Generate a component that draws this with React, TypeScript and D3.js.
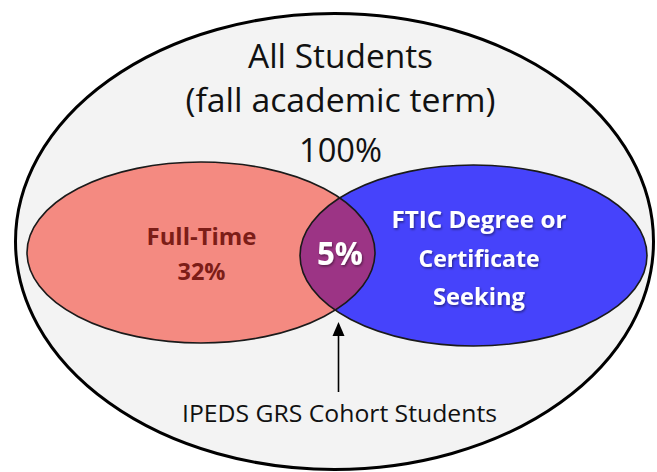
import React, { useEffect, useRef } from "react";
import * as d3 from "d3";

// data
const universeLines = ["All Students", "(fall academic term)"];
const universeShare = 100;
const setKeys = ["fullTime", "ftic"];
const setLines = [["Full-Time"], ["FTIC Degree or", "Certificate", "Seeking"]];
const setShares: (number | null)[] = [32, null];
const overlapShare = 5;
const calloutLabel = "IPEDS GRS Cohort Students";

const W = 657;
const H = 472;
const FONT = "'Open Sans', 'Noto Sans', sans-serif";

// layout (pixels), kept apart from the data
const outer = { cx: 334.5, cy: 241.5, rx: 319, ry: 228 };
const circles = [
  { cx: 201, cy: 252.5, rx: 174, ry: 90.5, fill: "#f48a81" },
  { cx: 473.5, cy: 255.5, rx: 173.5, ry: 90.5, fill: "#4643fb" },
];
const overlapFill = "#9c3485";

const pct = d3.format(".0f");

export default function App() {
  const ref = useRef<SVGSVGElement | null>(null);

  useEffect(() => {
    const svg = d3.select(ref.current);
    svg.selectAll("*").remove();

    const defs = svg.append("defs");
    const shadow = defs.append("filter").attr("id", "soft").attr("x", "-10%").attr("y", "-10%").attr("width", "130%").attr("height", "140%");
    shadow.append("feDropShadow").attr("dx", 1).attr("dy", 1.5).attr("stdDeviation", 1).attr("flood-color", "#000").attr("flood-opacity", 0.45);

    defs.append("clipPath").attr("id", "clipLeft")
      .append("ellipse")
      .attr("cx", circles[0].cx).attr("cy", circles[0].cy)
      .attr("rx", circles[0].rx).attr("ry", circles[0].ry);

    // universe
    svg.append("ellipse")
      .attr("cx", outer.cx).attr("cy", outer.cy)
      .attr("rx", outer.rx).attr("ry", outer.ry)
      .attr("fill", "#f3f3f3").attr("stroke", "#000").attr("stroke-width", 3);

    const g = svg.append("g");
    g.selectAll("ellipse.set")
      .data(setKeys)
      .join("ellipse")
      .attr("class", "set")
      .attr("cx", (_, i) => circles[i].cx).attr("cy", (_, i) => circles[i].cy)
      .attr("rx", (_, i) => circles[i].rx).attr("ry", (_, i) => circles[i].ry)
      .attr("fill", (_, i) => circles[i].fill);

    // overlap = right set clipped to left set
    g.append("ellipse")
      .attr("clip-path", "url(#clipLeft)")
      .attr("cx", circles[1].cx).attr("cy", circles[1].cy)
      .attr("rx", circles[1].rx).attr("ry", circles[1].ry)
      .attr("fill", overlapFill);

    g.selectAll("ellipse.edge")
      .data(setKeys)
      .join("ellipse")
      .attr("class", "edge")
      .attr("cx", (_, i) => circles[i].cx).attr("cy", (_, i) => circles[i].cy)
      .attr("rx", (_, i) => circles[i].rx).attr("ry", (_, i) => circles[i].ry)
      .attr("fill", "none").attr("stroke", "#1a1a1a").attr("stroke-width", 1.6);

    // title block
    const title = [...universeLines, pct(universeShare) + "%"];
    const titleY = [68, 112, 162];
    const titleW = [185, 310, 83];
    svg.selectAll("text.title")
      .data(title)
      .join("text")
      .attr("class", "title")
      .attr("x", 340.5)
      .attr("y", (_, i) => titleY[i])
      .attr("text-anchor", "middle")
      .attr("font-family", FONT)
      .attr("font-size", 32)
      .attr("fill", "#111")
      .attr("textLength", (_, i) => titleW[i])
      .attr("lengthAdjust", "spacingAndGlyphs")
      .text((d) => d);

    // left set label
    const leftText = [...setLines[0], pct(setShares[0] as number) + "%"];
    const leftY = [245, 280];
    const leftW = [110, 48];
    svg.selectAll("text.left")
      .data(leftText)
      .join("text")
      .attr("class", "left")
      .attr("x", 201.5)
      .attr("y", (_, i) => leftY[i])
      .attr("text-anchor", "middle")
      .attr("font-family", FONT)
      .attr("font-weight", 700)
      .attr("font-size", 23)
      .attr("fill", "#7c1d17")
      .attr("textLength", (_, i) => leftW[i])
      .attr("lengthAdjust", "spacingAndGlyphs")
      .text((d) => d);

    // right set label
    const rightY = [228, 267, 305];
    const rightW = [175, 121, 92];
    svg.selectAll("text.right")
      .data(setLines[1])
      .join("text")
      .attr("class", "right")
      .attr("x", 479)
      .attr("y", (_, i) => rightY[i])
      .attr("text-anchor", "middle")
      .attr("font-family", FONT)
      .attr("font-weight", 700)
      .attr("font-size", 23)
      .attr("fill", "#fff")
      .attr("filter", "url(#soft)")
      .attr("textLength", (_, i) => rightW[i])
      .attr("lengthAdjust", "spacingAndGlyphs")
      .text((d) => d);

    // overlap label
    svg.append("text")
      .attr("x", 340).attr("y", 265)
      .attr("text-anchor", "middle")
      .attr("font-family", FONT)
      .attr("font-weight", 700)
      .attr("font-size", 32)
      .attr("fill", "#fff")
      .attr("filter", "url(#soft)")
      .attr("textLength", 46)
      .attr("lengthAdjust", "spacingAndGlyphs")
      .text(pct(overlapShare) + "%");

    // callout arrow
    const ax = 338.5;
    svg.append("line")
      .attr("x1", ax).attr("x2", ax)
      .attr("y1", 392).attr("y2", 334)
      .attr("stroke", "#000").attr("stroke-width", 1.6);
    svg.append("path")
      .attr("d", d3.line()([[ax, 322], [ax - 6, 336], [ax + 6, 336]]) + "Z")
      .attr("fill", "#000");

    svg.append("text")
      .attr("x", 339.5).attr("y", 422)
      .attr("text-anchor", "middle")
      .attr("font-family", FONT)
      .attr("font-size", 23)
      .attr("fill", "#111")
      .attr("textLength", 315)
      .attr("lengthAdjust", "spacingAndGlyphs")
      .text(calloutLabel);
  }, []);

  return (
    <svg
      ref={ref}
      width={W}
      height={H}
      style={{ position: "absolute", left: 0, top: 0, background: "#fff" }}
    />
  );
}
